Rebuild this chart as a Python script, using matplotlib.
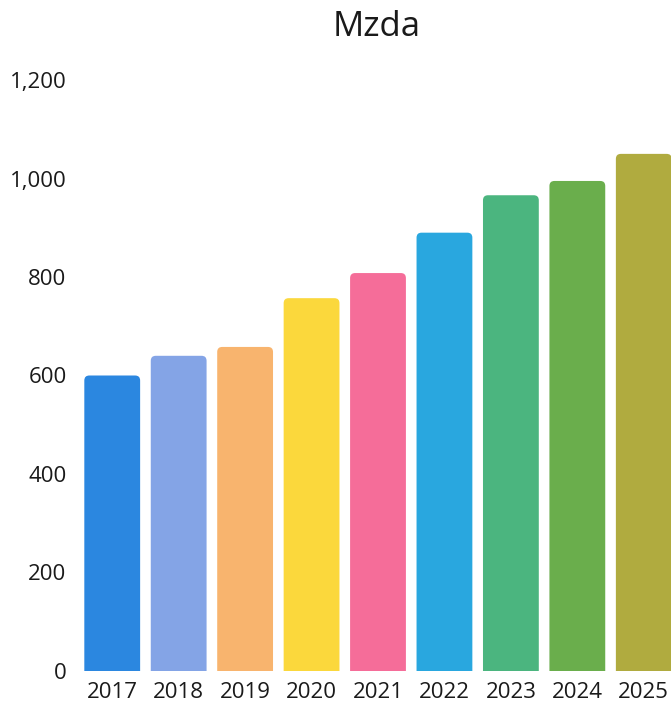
import numpy as np
import matplotlib.pyplot as plt
from matplotlib.patches import FancyBboxPatch
from matplotlib.ticker import FuncFormatter

plt.rcParams['font.family'] = ['Open Sans', 'DejaVu Sans']

years = ['2017', '2018', '2019', '2020', '2021', '2022', '2023', '2024', '2025']
values = [600, 640, 658, 757, 808, 890, 966, 995, 1050]
colors = ['#2b87e0', '#84a4e6', '#f8b46e', '#fbd83c', '#f56d99',
          '#29a7df', '#4bb57f', '#6aae4c', '#b0ab3f']

fig = plt.figure(figsize=(6.71, 7.02), dpi=100)
ax = fig.add_axes([79 / 671, 31 / 702, 598 / 671, 591 / 702])

x = np.arange(len(years))
bars = ax.bar(x, values, width=0.84, color=colors)

# swap the plain bars for rounded ones (bottom is hidden below 0)
px_x = 598 / 9.0
px_y = 591 / 1200.0
for b, c in zip(bars, colors):
    b.set_visible(False)
    x0, w, h = b.get_x(), b.get_width(), b.get_height()
    r = 5 / px_x
    p = FancyBboxPatch((x0, -20), w, h + 20,
                       boxstyle='round,pad=0,rounding_size=%f' % r,
                       mutation_aspect=px_x / px_y,
                       facecolor=c, edgecolor='none', clip_on=True)
    ax.add_patch(p)

ax.set_xlim(-0.5, 8.5)
ax.set_ylim(0, 1200)
ax.set_yticks([0, 200, 400, 600, 800, 1000, 1200])
ax.yaxis.set_major_formatter(FuncFormatter(lambda v, pos: '{:,.0f}'.format(v)))
ax.set_xticks(x)
ax.set_xticklabels(years)
ax.tick_params(axis='both', length=0, labelsize=16, colors='#1a1a1a')
ax.tick_params(axis='y', pad=9)
ax.tick_params(axis='x', pad=8)
for s in ax.spines.values():
    s.set_visible(False)

fig.text(377 / 671, 1 - 27 / 702, 'Mzda', ha='center', va='center',
         fontsize=25, color='#1a1a1a')

fig.savefig('out.png', dpi=100)
